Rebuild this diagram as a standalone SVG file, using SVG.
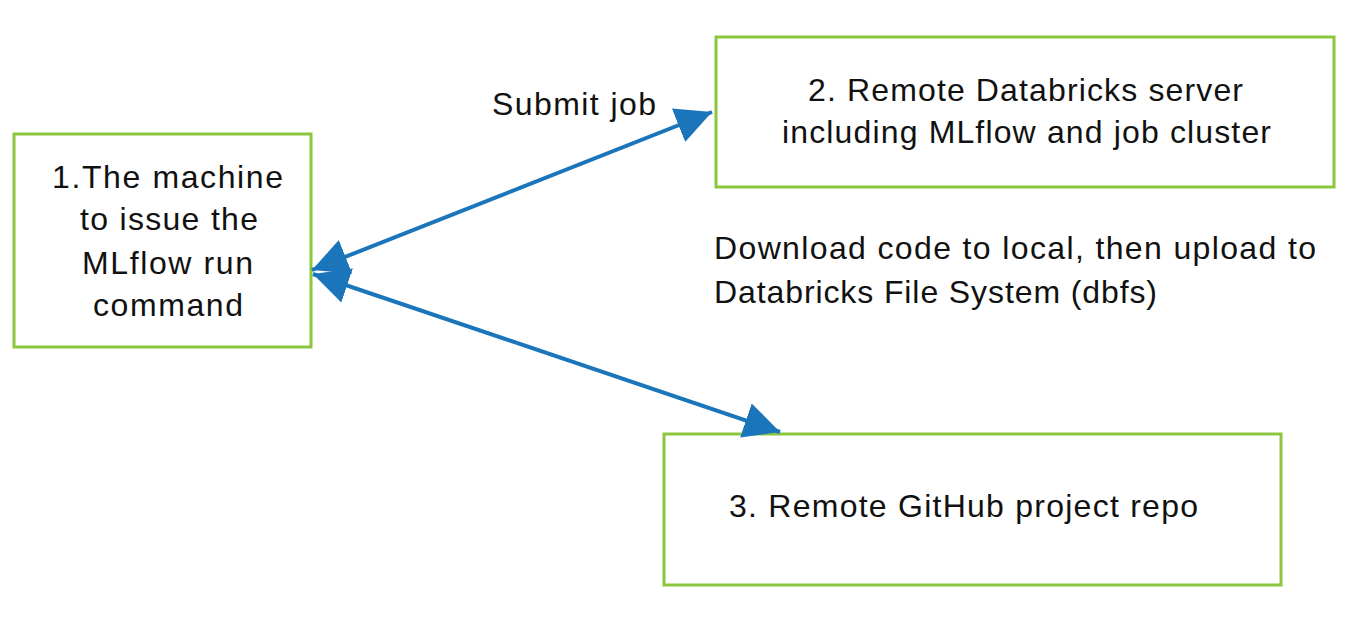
<svg xmlns="http://www.w3.org/2000/svg" width="1346" height="622" viewBox="0 0 1346 622">
<style>
.box{fill:#fff;stroke:#8cc63f;stroke-width:3}
.t{font-family:"Liberation Sans",Arial,sans-serif;font-size:32px;fill:#111}
.conn{stroke:#1b75bb;stroke-width:4;fill:none}
</style>
<defs>
<marker id="ah" markerUnits="userSpaceOnUse" markerWidth="38" markerHeight="38" refX="36" refY="19" orient="auto-start-reverse" viewBox="0 0 38 38">
<path d="M0,1 L36,19 L0,37 Z" fill="#1b75bb"/>
</marker>
</defs>
<rect width="1346" height="622" fill="#fff"/>
<g id="n1">
<rect class="box" x="14" y="134" width="297" height="213"/>
<text class="t" x="52" y="188" textLength="231" lengthAdjust="spacing">1.The machine</text>
<text class="t" x="80" y="230" textLength="178" lengthAdjust="spacing">to issue the</text>
<text class="t" x="82" y="274" textLength="171" lengthAdjust="spacing">MLflow run</text>
<text class="t" x="93" y="316" textLength="150" lengthAdjust="spacing">command</text>
</g>
<g id="n2">
<rect class="box" x="716" y="37" width="618" height="150"/>
<text class="t" x="808" y="101" textLength="435" lengthAdjust="spacing">2. Remote Databricks server</text>
<text class="t" x="782" y="143" textLength="489" lengthAdjust="spacing">including MLflow and job cluster</text>
</g>
<g id="n3">
<rect class="box" x="664" y="434" width="617" height="151"/>
<text class="t" x="729" y="517" textLength="469" lengthAdjust="spacing">3. Remote GitHub project repo</text>
</g>
<g id="labels">
<text class="t" x="492" y="115" textLength="164" lengthAdjust="spacing">Submit job</text>
<text class="t" x="714" y="259" textLength="602" lengthAdjust="spacing">Download code to local, then upload to</text>
<text class="t" x="714" y="303" textLength="443" lengthAdjust="spacing">Databricks File System (dbfs)</text>
</g>
<g id="connectors">
<line class="conn" x1="312" y1="270" x2="712" y2="112" marker-start="url(#ah)" marker-end="url(#ah)"/>
<line class="conn" x1="313" y1="274" x2="780" y2="432" marker-start="url(#ah)" marker-end="url(#ah)"/>
</g>
</svg>
